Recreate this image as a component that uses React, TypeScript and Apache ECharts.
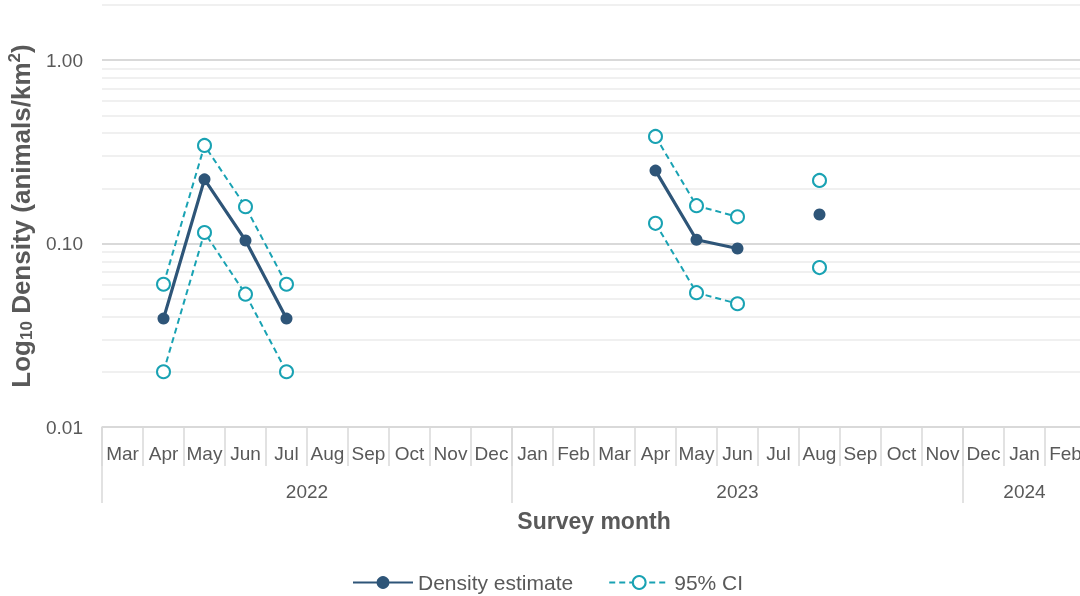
import React, { useEffect, useRef } from "react";
import * as echarts from "echarts";

const months = [
  "Mar", "Apr", "May", "Jun", "Jul", "Aug", "Sep", "Oct", "Nov", "Dec",
  "Jan", "Feb", "Mar", "Apr", "May", "Jun", "Jul", "Aug", "Sep", "Oct", "Nov",
  "Dec", "Jan", "Feb",
];
const years = ["2022", "2023", "2024"];
const yearSpans = [10, 11, 3];

const densityEstimate = [
  null, 0.039, 0.224, 0.104, 0.039, null, null, null, null, null,
  null, null, null, 0.25, 0.105, 0.094, null, 0.144, null, null, null,
  null, null, null,
];
const ciUpper = [
  null, 0.06, 0.343, 0.159, 0.06, null, null, null, null, null,
  null, null, null, 0.384, 0.161, 0.14, null, 0.221, null, null, null,
  null, null, null,
];
const ciLower = [
  null, 0.02, 0.115, 0.053, 0.02, null, null, null, null, null,
  null, null, null, 0.129, 0.054, 0.047, null, 0.074, null, null, null,
  null, null, null,
];
const minorGridValues = [
  0.02, 0.03, 0.04, 0.05, 0.06, 0.07, 0.08, 0.09,
  0.2, 0.3, 0.4, 0.5, 0.6, 0.7, 0.8, 0.9, 2,
];

const FONT = "'Liberation Sans', Arial, sans-serif";
const TEXT = "#595959";
const DARK = "#2E5578";
const TEAL = "#19A2B3";

export default function App() {
  const ref = useRef<HTMLDivElement>(null);
  useEffect(() => {
    if (!ref.current) return;
    const chart = echarts.init(ref.current, null, { renderer: "svg" });

    const bounds: number[] = [0];
    const centers: number[] = [];
    let acc = 0;
    yearSpans.forEach((s) => {
      centers.push(acc + s / 2);
      acc += s;
      bounds.push(acc);
    });

    chart.setOption({
      animation: false,
      textStyle: { fontFamily: FONT },
      grid: {
        left: 102,
        top: 5,
        width: 984,
        bottom: 169,
        containLabel: false,
        outerBoundsMode: "none",
      },
      legend: {
        left: 352,
        top: 572,
        padding: 0,
        itemWidth: 60,
        itemHeight: 16,
        itemGap: 35,
        data: ["Density estimate", "95% CI"],
        textStyle: { fontSize: 21, color: TEXT, fontFamily: FONT },
      },
      xAxis: [
        {
          type: "category",
          data: months,
          boundaryGap: true,
          axisLine: { show: true, lineStyle: { color: "#d9d9d9", width: 1.5 } },
          axisTick: {
            show: true,
            interval: 0,
            length: 39,
            lineStyle: { color: "#d9d9d9", width: 1.5 },
          },
          axisLabel: {
            interval: 0,
            fontSize: 19,
            color: TEXT,
            margin: 17,
            fontFamily: FONT,
          },
          splitLine: { show: false },
        },
        {
          type: "value",
          position: "bottom",
          min: 0,
          max: months.length,
          axisLine: { show: false },
          splitLine: { show: false },
          axisTick: {
            show: true,
            customValues: bounds,
            length: 76,
            lineStyle: { color: "#d9d9d9", width: 1.5 },
          },
          axisLabel: {
            show: true,
            customValues: centers,
            formatter: (v: number) => {
              const i = centers.findIndex((c) => Math.abs(c - v) < 1e-6);
              return i >= 0 ? years[i] : "";
            },
            fontSize: 19,
            color: TEXT,
            margin: 55,
            fontFamily: FONT,
          },
          name: "Survey month",
          nameLocation: "middle",
          nameGap: 82,
          nameTextStyle: {
            fontSize: 23,
            fontWeight: "bold",
            color: TEXT,
            fontFamily: FONT,
          },
        },
      ],
      yAxis: {
        type: "log",
        logBase: 10,
        min: 0.01,
        max: 2,
        axisLine: { show: false },
        axisTick: { show: false },
        axisLabel: {
          fontSize: 19,
          color: TEXT,
          margin: 19,
          showMaxLabel: false,
          fontFamily: FONT,
          formatter: (v: number) => v.toFixed(2),
        },
        splitLine: {
          show: true,
          lineStyle: {
            color: ["#d9d9d9", "#d9d9d9", "#d9d9d9", "#f0f0f0"],
            width: 2,
          },
        },
        name: "{b|Log}{s|10}{b| Density (animals/km}{p|2}{b|)}",
        nameLocation: "middle",
        nameGap: 60,
        nameTextStyle: {
          color: TEXT,
          fontFamily: FONT,
          rich: {
            b: {
              fontSize: 26,
              fontWeight: "bold",
              color: TEXT,
              fontFamily: FONT,
              lineHeight: 29,
            },
            s: {
              fontSize: 17,
              fontWeight: "bold",
              color: TEXT,
              fontFamily: FONT,
              lineHeight: 17,
              verticalAlign: "bottom",
            },
            p: {
              fontSize: 17,
              fontWeight: "bold",
              color: TEXT,
              fontFamily: FONT,
              lineHeight: 17,
              verticalAlign: "top",
            },
          },
        },
      },
      series: [
        {
          name: "gridMinor",
          type: "line",
          data: months.map(() => null),
          symbol: "none",
          silent: true,
          z: 1,
          markLine: {
            silent: true,
            z: 1,
            symbol: "none",
            label: { show: false },
            lineStyle: { color: "#f0f0f0", width: 2, type: "solid" },
            data: minorGridValues.map((v) => ({ yAxis: v })),
          },
        },
        {
          name: "95% CI",
          type: "line",
          data: ciUpper,
          symbol: "emptyCircle",
          symbolSize: 13,
          showSymbol: true,
          connectNulls: false,
          lineStyle: { color: TEAL, width: 2, type: [6, 4] },
          itemStyle: { color: TEAL, borderColor: TEAL, borderWidth: 2 },
          z: 3,
        },
        {
          name: "95% CI",
          type: "line",
          data: ciLower,
          symbol: "emptyCircle",
          symbolSize: 13,
          showSymbol: true,
          connectNulls: false,
          lineStyle: { color: TEAL, width: 2, type: [6, 4] },
          itemStyle: { color: TEAL, borderColor: TEAL, borderWidth: 2 },
          z: 3,
        },
        {
          name: "Density estimate",
          type: "line",
          data: densityEstimate,
          symbol: "circle",
          symbolSize: 12,
          showSymbol: true,
          connectNulls: false,
          lineStyle: { color: DARK, width: 3.2 },
          itemStyle: { color: DARK },
          z: 4,
        },
      ],
    });
    return () => chart.dispose();
  }, []);

  return (
    <div
      ref={ref}
      style={{ position: "fixed", left: 0, top: 0, width: 1080, height: 596 }}
    />
  );
}
